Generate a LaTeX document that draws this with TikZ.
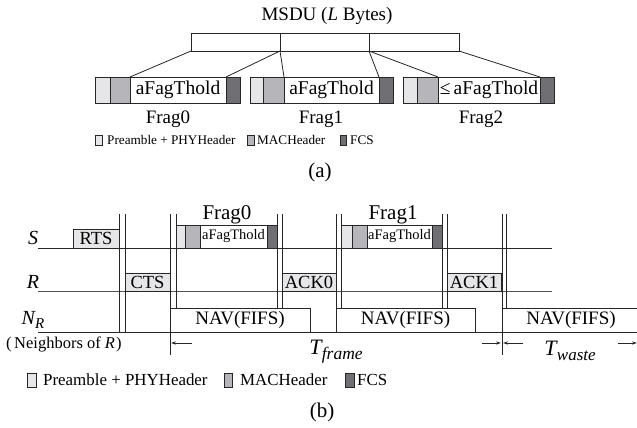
\documentclass[tikz,border=0pt]{standalone}
\usepackage{fontspec}
\setmainfont{Liberation Serif}
\usetikzlibrary{arrows.meta}
\definecolor{cpre}{HTML}{E6E6E8}
\definecolor{cmac}{HTML}{B6B6BA}
\definecolor{cfcs}{HTML}{707074}
\definecolor{cln}{HTML}{262626}
\definecolor{cln2}{HTML}{555555}
\newcommand\fsz[1]{\fontsize{#1}{#1}\selectfont}
\newcommand\sg[7]{\node[segbox, fill=#6, minimum width=#4pt, minimum height=#5pt] (#1) at (#2,#3) {#7};}
\begin{document}
\begin{tikzpicture}[x=1pt,y=-1pt,
  segbox/.style={draw=cln, line width=0.8pt, inner sep=0pt, outer sep=0pt, anchor=north west},
  lbl/.style={inner sep=0pt},
  tl/.style={draw=cln, line width=0.8pt},
  vl/.style={draw=cln, line width=0.8pt},
  arr/.style={draw=cln, line width=0.8pt, -{Stealth[length=5pt,width=3.2pt]}}]
\useasboundingbox (0,0) rectangle (637,428);
% ---------- (a) ----------
\node[lbl, font=\fsz{19}] (msdut) at (327,16) {MSDU (\textit{L} Bytes)};
\sg{m1}{191}{33}{89}{18}{white}{}
\sg{m2}{280}{33}{89}{18}{white}{}
\sg{m3}{369}{33}{90}{18}{white}{}
% Frag0
\sg{a0p}{95}{77}{15}{26}{cpre}{}
\sg{a0m}{110}{77}{20}{26}{cmac}{}
\sg{a0d}{130}{77}{96}{26}{white}{\fsz{19.5}aFagThold}
\sg{a0f}{226}{77}{14}{26}{cfcs}{}
% Frag1
\sg{a1p}{250}{77}{13}{26}{cpre}{}
\sg{a1m}{263}{77}{21}{26}{cmac}{}
\sg{a1d}{284}{77}{95}{26}{white}{\fsz{19.5}aFagThold}
\sg{a1f}{379}{77}{14}{26}{cfcs}{}
% Frag2
\sg{a2p}{403}{77}{14}{26}{cpre}{}
\sg{a2m}{417}{77}{21}{26}{cmac}{}
\sg{a2d}{438}{77}{102}{26}{white}{\fsz{19.5}≤\,aFagThold}
\sg{a2f}{540}{77}{14}{26}{cfcs}{}
\draw[tl] (m1.south west) -- (a0d.north west);
\draw[tl] (m1.south east) -- (a0d.north east);
\draw[tl] (m2.south west) -- (a1d.north west);
\draw[tl] (m2.south east) -- (a1d.north east);
\draw[tl] (m3.south west) -- (a2d.north west);
\draw[tl] (m3.south east) -- (a2d.north east);
\node[lbl, font=\fsz{19}] (fa0) at (168,119) {Frag0};
\node[lbl, font=\fsz{19}] (fa1) at (321,119) {Frag1};
\node[lbl, font=\fsz{19}] (fa2) at (481,119) {Frag2};
% legend (a)
\sg{la1}{95}{135}{7}{10}{cpre}{}
\node[lbl, anchor=west, font=\fsz{13.2}] (lat1) at (107,140) {Preamble + PHYHeader};
\sg{la2}{247}{135}{7}{10}{cmac}{}
\node[lbl, anchor=west, font=\fsz{13.2}] (lat2) at (257,140) {MACHeader};
\sg{la3}{340}{135}{6}{10}{cfcs}{}
\node[lbl, anchor=west, font=\fsz{13.2}] (lat3) at (350,140) {FCS};
\node[lbl, font=\fsz{21}] (capa) at (320,172) {(a)};
% ---------- (b) ----------
\coordinate (sL) at (38,248); \coordinate (sR) at (552,248);
\coordinate (rL) at (38,291); \coordinate (rR) at (552,291);
\coordinate (nL) at (38,332); \coordinate (nR) at (637,332);
\draw[draw=cln, line width=0.8pt] (sL) -- (sR);
\draw[draw=cln2, line width=0.8pt] (rL) -- (rR);
\draw[draw=cln, line width=0.9pt] (nL) -- (nR);
\node[lbl, font=\fsz{20}\itshape] (sLab) at (33,238) {S};
\node[lbl, font=\fsz{20}\itshape] (rLab) at (33,282) {R};
\node[lbl, font=\fsz{20}\itshape] (nLab) at (33,320) {N\raisebox{-4pt}{\fsz{15}R}};
\node[lbl, anchor=west, font=\fsz{16.5}] (neigh) at (6,344) {(\hspace{2.5pt}Neighbors of \textit{R}\hspace{1pt})};
% frames
\sg{rts}{73}{229}{46}{19}{cpre}{\fsz{18.5}RTS}
\sg{cts}{125}{273}{45}{18}{cpre}{\fsz{18.5}CTS}
\sg{ack0}{282}{273}{54}{18}{cpre}{\fsz{18.5}ACK0}
\sg{ack1}{447}{273}{54}{18}{cpre}{\fsz{18.5}ACK1}
\sg{b0p}{176}{225}{9}{23}{cpre}{}
\sg{b0m}{185}{225}{15}{23}{cmac}{}
\sg{b0d}{200}{225}{67}{23}{white}{\fsz{14.5}aFagThold}
\sg{b0f}{267}{225}{10}{23}{cfcs}{}
\sg{b1p}{341}{225}{11}{23}{cpre}{}
\sg{b1m}{352}{225}{15}{23}{cmac}{}
\sg{b1d}{367}{225}{65}{23}{white}{\fsz{14.5}aFagThold}
\sg{b1f}{432}{225}{10}{23}{cfcs}{}
\node[lbl, font=\fsz{21}] (fb0) at (227,215) {Frag0};
\node[lbl, font=\fsz{21}] (fb1) at (393,215) {Frag1};
% NAV
\sg{nav1}{170}{308}{140}{24}{white}{\fsz{19}NAV(FIFS)}
\sg{nav2}{336}{308}{139}{24}{white}{\fsz{19}NAV(FIFS)}
\node[lbl, font=\fsz{19}] (nav3) at (571,320) {NAV(FIFS)};
\draw[tl] (502,332) -- (502,308) -- (640,308);
% vertical double lines
\draw[vl] (119,214) -- (119,332);  \draw[vl] (125,214) -- (125,332);
\draw[vl] (170,214) -- (170,355);  \draw[vl] (176,214) -- (176,308);
\draw[vl] (277,214) -- (277,308);  \draw[vl] (282,214) -- (282,308);
\draw[vl] (336,214) -- (336,332);  \draw[vl] (341,214) -- (341,308);
\draw[vl] (442,214) -- (442,308);  \draw[vl] (447,214) -- (447,308);
\draw[vl] (502,214) -- (502,355);  \draw[vl] (506,214) -- (506,308);
% time arrows
\coordinate (t1a) at (192,343); \coordinate (t1b) at (171,343);
\coordinate (t2a) at (482,343); \coordinate (t2b) at (501,343);
\coordinate (t3a) at (523,343); \coordinate (t3b) at (503,343);
\coordinate (t4a) at (618,343); \coordinate (t4b) at (637,343);
\draw[arr] (t1a) -- (t1b);
\draw[arr] (t2a) -- (t2b);
\draw[arr] (t3a) -- (t3b);
\draw[arr] (t4a) -- (t4b);
\node[lbl, font=\fsz{22}] (tframe) at (336,352) {\textit{T}\hspace{-1pt}\raisebox{-5pt}{\fsz{17.5}\itshape frame}};
\node[lbl, font=\fsz{22}] (twaste) at (570,351) {\textit{T}\hspace{-1pt}\raisebox{-5pt}{\fsz{17}\itshape waste}};
% legend (b)
\sg{lb1}{27}{373}{9}{14}{cpre}{}
\node[lbl, anchor=west, font=\fsz{16.9}] (lbt1) at (43,380) {Preamble + PHYHeader};
\sg{lb2}{224}{373}{8}{14}{cmac}{}
\node[lbl, anchor=west, font=\fsz{16.9}] (lbt2) at (240,380) {MACHeader};
\sg{lb3}{345}{373}{9}{14}{cfcs}{}
\node[lbl, anchor=west, font=\fsz{16.9}] (lbt3) at (357,380) {FCS};
\node[lbl, font=\fsz{21}] (capb) at (322,412) {(b)};
\end{tikzpicture}
\end{document}
